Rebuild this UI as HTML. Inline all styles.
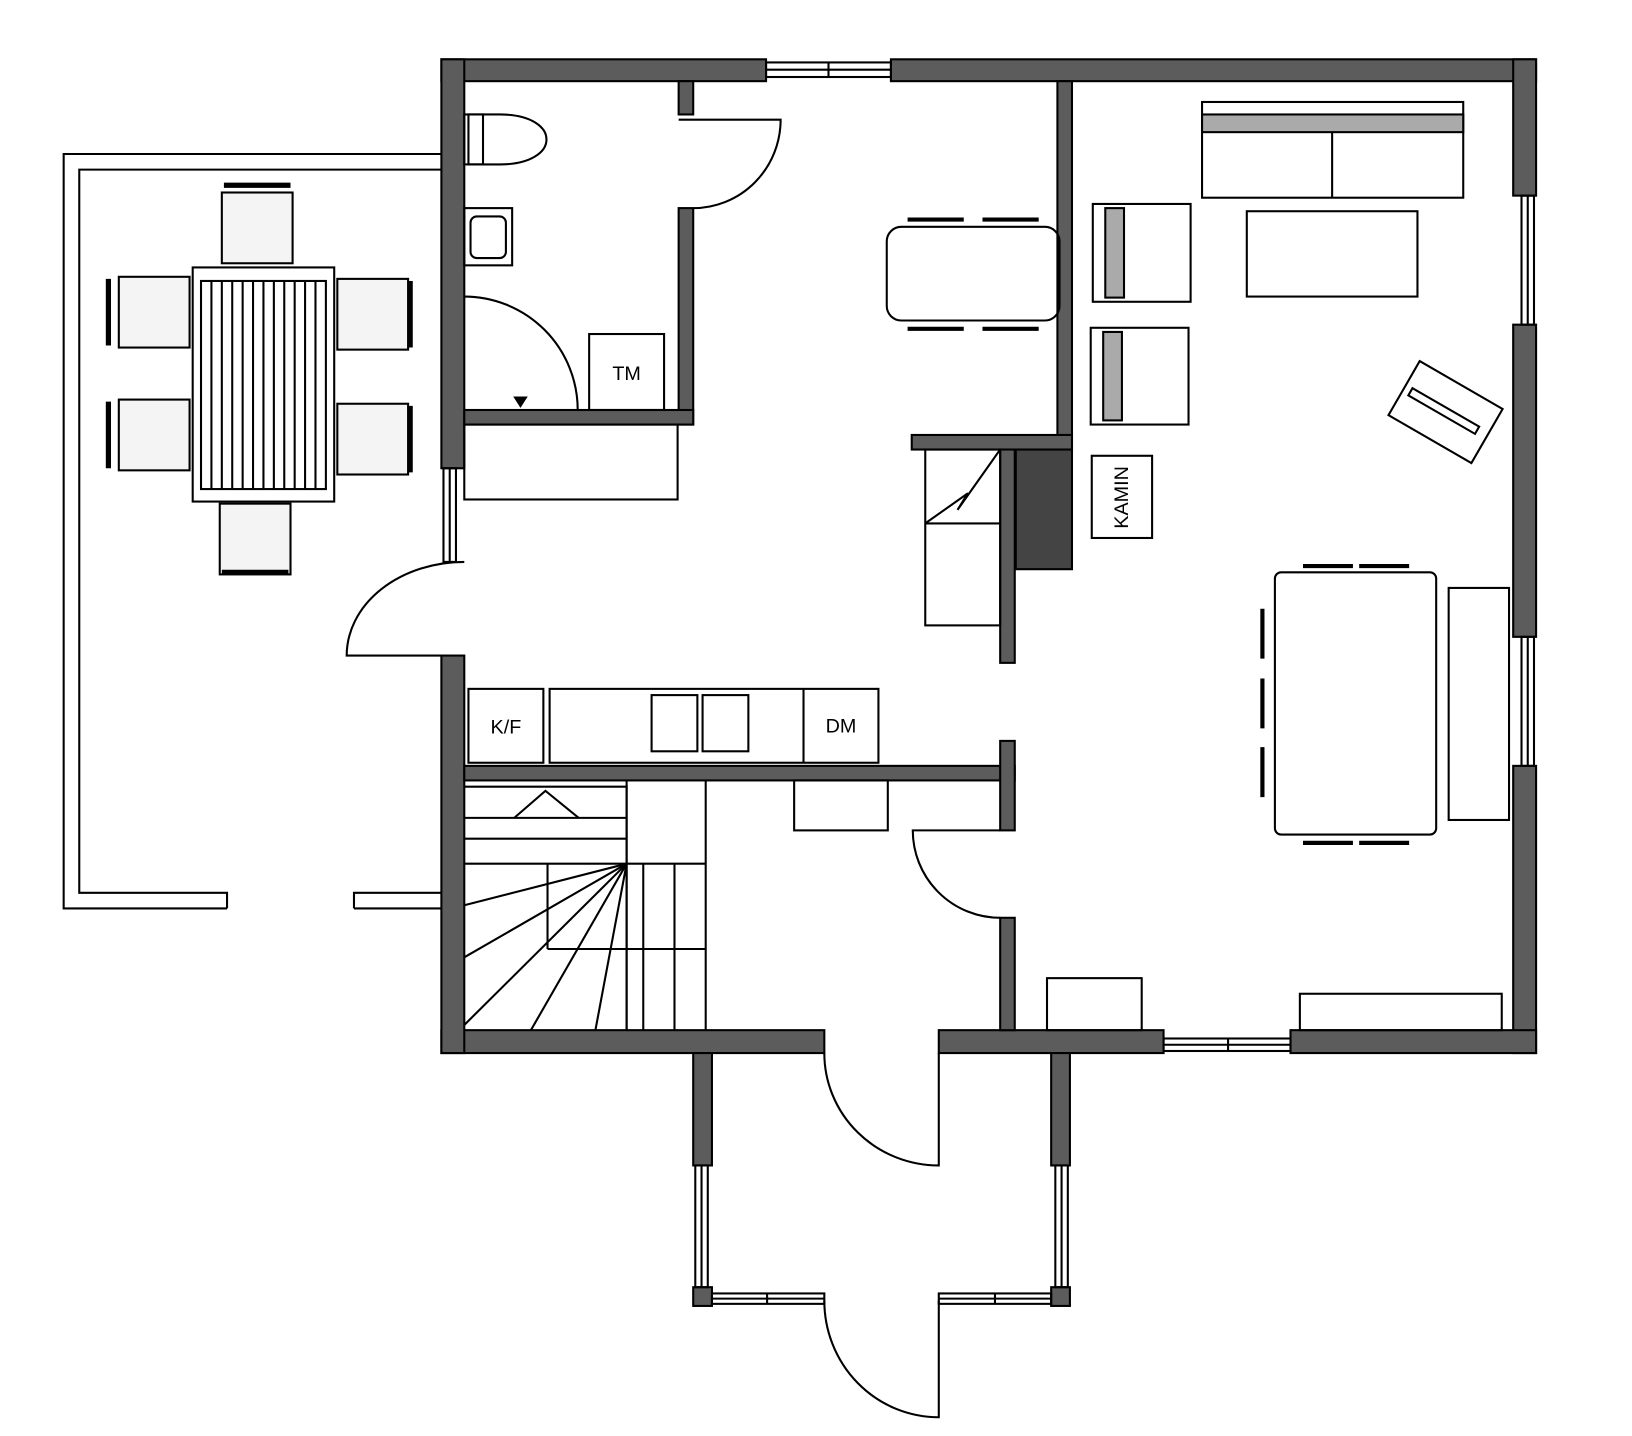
<!DOCTYPE html>
<html><head><meta charset="utf-8"><style>html,body{margin:0;padding:0;background:#fff}svg{display:block}</style></head>
<body>
<svg width="1632" height="1436" viewBox="0 0 1568 1380" xmlns="http://www.w3.org/2000/svg" font-family="Liberation Sans, sans-serif">
<g fill="#5c5c5c" stroke="#000" stroke-width="2">
<!-- outer walls -->
<rect x="424" y="57" width="312" height="21"/>
<rect x="856" y="57" width="620" height="21"/>
<rect x="1454" y="57" width="22" height="131"/>
<rect x="1454" y="312" width="22" height="300"/>
<rect x="1454" y="736" width="22" height="276"/>
<rect x="424" y="990" width="368" height="22"/>
<rect x="902" y="990" width="216" height="22"/>
<rect x="1240" y="990" width="236" height="22"/>
<rect x="424" y="57" width="22" height="393"/>
<rect x="424" y="630" width="22" height="382"/>
<!-- interior -->
<rect x="652" y="78" width="14" height="32"/>
<rect x="652" y="200" width="14" height="208"/>
<rect x="446" y="394" width="220" height="14"/>
<rect x="1016" y="78" width="14" height="354"/>
<rect x="876" y="418" width="154" height="14"/>
<rect x="961" y="432" width="14" height="205"/>
<rect x="446" y="736" width="529" height="14"/>
<rect x="961" y="712" width="14" height="86"/>
<rect x="961" y="882" width="14" height="108"/>
<rect x="666" y="1012" width="18" height="108"/>
<rect x="1010" y="1012" width="18" height="108"/>
<rect x="666" y="1237" width="18" height="18"/>
<rect x="1010" y="1237" width="18" height="18"/>
</g>
<rect x="976" y="432" width="54" height="115" fill="#444" stroke="#000" stroke-width="2"/>
<g fill="none" stroke="#000" stroke-width="2">
<!-- windows -->
<rect x="736" y="60" width="120" height="14"/><line x1="736" y1="67" x2="856" y2="67"/><line x1="796" y1="60" x2="796" y2="74"/>
<rect x="1462" y="188" width="12" height="124"/><line x1="1468" y1="188" x2="1468" y2="312"/>
<rect x="1462" y="612" width="12" height="124"/><line x1="1468" y1="612" x2="1468" y2="736"/>
<rect x="1118" y="998" width="122" height="12"/><line x1="1118" y1="1004" x2="1240" y2="1004"/><line x1="1180" y1="998" x2="1180" y2="1010"/>
<rect x="426" y="450" width="12" height="90"/><line x1="432" y1="450" x2="432" y2="540"/>
<rect x="668" y="1120" width="12" height="117"/><line x1="674" y1="1120" x2="674" y2="1237"/>
<rect x="1014" y="1120" width="12" height="117"/><line x1="1020" y1="1120" x2="1020" y2="1237"/>
<rect x="684" y="1243" width="108" height="10"/><line x1="684" y1="1248" x2="792" y2="1248"/><line x1="737" y1="1243" x2="737" y2="1253"/>
<rect x="902" y="1243" width="108" height="10"/><line x1="902" y1="1248" x2="1010" y2="1248"/><line x1="956" y1="1243" x2="956" y2="1253"/>
<!-- terrace -->
<polyline points="424,148 61,148 61,873 218,873"/><polyline points="340,873 424,873"/>
<polyline points="424,163 76,163 76,858 218,858 218,873"/><polyline points="340,873 340,858 424,858"/>
<!-- doors -->
<path d="M666,200 A84,85 0 0 0 750,115 L652,115"/>
<path d="M446,285 A109,109 0 0 1 555,394"/>
<path d="M446,540 A113,90 0 0 0 333,630 L424,630"/>
<path d="M961,798 L877,798 A84,84 0 0 0 961,882"/>
<path d="M792,1012 A110,108 0 0 0 902,1120 L902,1012"/>
<path d="M792,1250 A110,112 0 0 0 902,1362 L902,1250"/>
<!-- bath -->
<rect x="566" y="321" width="72" height="73"/>
<rect x="446" y="408" width="205" height="72"/>
<path d="M450,110 L480,110 C540,110 540,158 480,158 L450,158 Z"/><rect x="446" y="110" width="18" height="48"/>
<rect x="446" y="200" width="46" height="55"/><rect x="452" y="208" width="34" height="40" rx="6"/>
<!-- kitchen -->
<rect x="450" y="662" width="72" height="71"/>
<rect x="528" y="662" width="316" height="71"/>
<rect x="626" y="668" width="44" height="54"/><rect x="675" y="668" width="44" height="54"/>
<line x1="772" y1="662" x2="772" y2="733"/>
<rect x="763" y="750" width="90" height="48"/>
<!-- stairs -->
<polyline points="446,756 602,756 602,990"/>
<line x1="602" y1="750" x2="602" y2="990"/>
<line x1="678" y1="750" x2="678" y2="990"/>
<line x1="602" y1="830" x2="678" y2="830"/>
<line x1="446" y1="786" x2="602" y2="786"/><line x1="446" y1="806" x2="602" y2="806"/><line x1="446" y1="830" x2="602" y2="830"/>
<line x1="526" y1="830" x2="526" y2="912"/><line x1="526" y1="912" x2="678" y2="912"/>
<line x1="618" y1="830" x2="618" y2="990"/><line x1="648" y1="830" x2="648" y2="990"/>
<line x1="602" y1="830" x2="446" y2="870"/><line x1="602" y1="830" x2="446" y2="920"/><line x1="602" y1="830" x2="446" y2="985"/>
<line x1="602" y1="830" x2="510" y2="990"/><line x1="602" y1="830" x2="572" y2="990"/>
<polyline points="494,786 524,760 556,786"/>
<!-- fireplace stair box -->
<rect x="889" y="432" width="72" height="169"/><line x1="889" y1="503" x2="961" y2="503"/>
<polyline points="889,503 930,474 920,490 961,432"/>
<rect x="1049" y="438" width="58" height="79"/>
<!-- living -->
<rect x="1155" y="98" width="251" height="92"/><rect x="1155" y="110" width="251" height="17" fill="#aaa"/><line x1="1280" y1="127" x2="1280" y2="190"/>
<rect x="1198" y="203" width="164" height="82"/>
<rect x="1050" y="196" width="94" height="94"/><rect x="1062" y="200" width="18" height="86" fill="#aaa"/>
<rect x="1048" y="315" width="94" height="93"/><rect x="1060" y="319" width="18" height="85" fill="#aaa"/>
<g transform="rotate(30 1389 396)"><rect x="1343" y="366" width="92" height="60"/><rect x="1350" y="392" width="74" height="8"/></g>
<rect x="1225" y="550" width="155" height="252" rx="6"/>
<rect x="1392" y="565" width="58" height="223"/>
<rect x="1006" y="940" width="91" height="50"/>
<rect x="1249" y="955" width="194" height="35"/>
<rect x="852" y="218" width="166" height="90" rx="14"/>
<!-- living chairs -->
<g stroke-width="4">
<line x1="1252" y1="544" x2="1300" y2="544"/><line x1="1306" y1="544" x2="1354" y2="544"/>
<line x1="1252" y1="810" x2="1300" y2="810"/><line x1="1306" y1="810" x2="1354" y2="810"/>
<line x1="1213" y1="585" x2="1213" y2="633"/><line x1="1213" y1="652" x2="1213" y2="700"/><line x1="1213" y1="718" x2="1213" y2="766"/>
<line x1="872" y1="211" x2="926" y2="211"/><line x1="944" y1="211" x2="998" y2="211"/>
<line x1="872" y1="316" x2="926" y2="316"/><line x1="944" y1="316" x2="998" y2="316"/>
</g>
<!-- terrace table -->
<rect x="185" y="257" width="136" height="225"/><rect x="193" y="270" width="120" height="200"/>
</g>
<g stroke="#000" stroke-width="2">
<line x1="203" y1="270" x2="203" y2="470"/><line x1="213" y1="270" x2="213" y2="470"/><line x1="223" y1="270" x2="223" y2="470"/><line x1="233" y1="270" x2="233" y2="470"/><line x1="243" y1="270" x2="243" y2="470"/><line x1="253" y1="270" x2="253" y2="470"/><line x1="263" y1="270" x2="263" y2="470"/><line x1="273" y1="270" x2="273" y2="470"/><line x1="283" y1="270" x2="283" y2="470"/><line x1="293" y1="270" x2="293" y2="470"/><line x1="303" y1="270" x2="303" y2="470"/>
</g>
<g fill="#f4f4f4" stroke="#000" stroke-width="2">
<rect x="213" y="185" width="68" height="68"/><rect x="211" y="484" width="68" height="68"/>
<rect x="114" y="266" width="68" height="68"/><rect x="114" y="384" width="68" height="68"/>
<rect x="324" y="268" width="68" height="68"/><rect x="324" y="388" width="68" height="68"/>
</g>
<g stroke="#000" stroke-width="5">
<line x1="215" y1="178" x2="279" y2="178"/><line x1="213" y1="550" x2="277" y2="550"/>
<line x1="104" y1="268" x2="104" y2="332"/><line x1="104" y1="386" x2="104" y2="450"/>
<line x1="394" y1="270" x2="394" y2="334"/><line x1="394" y1="390" x2="394" y2="454"/>
</g>
<polygon points="493,381 507,381 500,392" fill="#000"/>
<g font-size="19" fill="#000" text-anchor="middle">
<text x="602" y="365">TM</text>
<text x="486" y="705">K/F</text>
<text x="808" y="704">DM</text>
<text transform="translate(1084,478) rotate(-90)">KAMIN</text>
</g>
</svg>
</body></html>
